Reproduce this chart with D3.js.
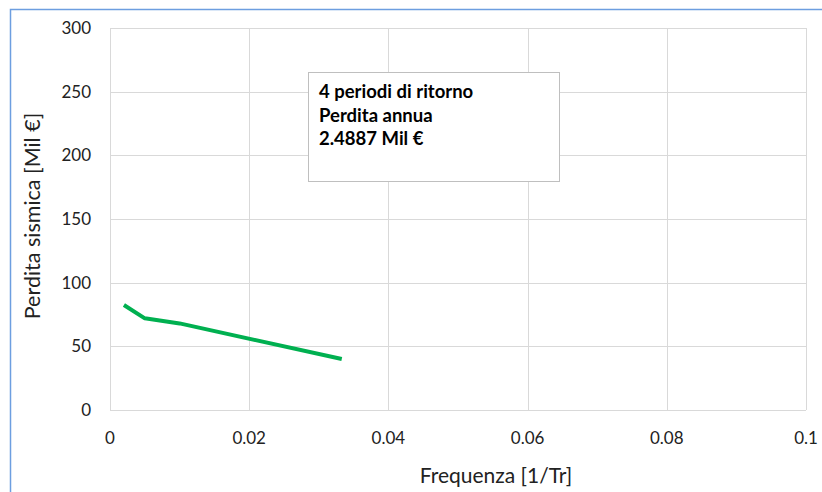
<!DOCTYPE html>
<html><head><meta charset="utf-8">
<script src="https://cdn.jsdelivr.net/npm/d3@7"></script>
<style>body{margin:0;background:#fff;} svg{display:block;font-family:Lato,"Open Sans",sans-serif;}</style>
</head><body>
<script>
const freq = [0.002, 0.005, 0.01, 0.0333];
const loss = [82.5, 72, 68, 40];
const xTicks = [0, 0.02, 0.04, 0.06, 0.08, 0.1];
const yTicks = [0, 50, 100, 150, 200, 250, 300];
const boxLines = ["4 periodi di ritorno", "Perdita annua", "2.4887 Mil €"];

const W = 822, H = 492;
const svg = d3.select("body").append("svg").attr("width", W).attr("height", H);
const m = {l:110, r:806, t:28, b:410};
const x = d3.scaleLinear().domain([0, 0.1]).range([m.l, m.r]);
const y = d3.scaleLinear().domain([0, 300]).range([m.b, m.t]);

// outer chart border (left & top visible)
svg.append("path").attr("d", `M10.5,${H} V9.5 H${W}`).attr("fill","none").attr("stroke","#6d9ee0").attr("stroke-width",1.5);

const g = svg.append("g");
g.selectAll(".vg").data(xTicks).enter().append("line")
  .attr("x1", d=>Math.round(x(d))+0.5).attr("x2", d=>Math.round(x(d))+0.5)
  .attr("y1", m.t).attr("y2", m.b).attr("stroke","#d9d9d9").attr("stroke-width",1);
g.selectAll(".hg").data(yTicks).enter().append("line")
  .attr("y1", d=>Math.round(y(d))+0.5).attr("y2", d=>Math.round(y(d))+0.5)
  .attr("x1", m.l).attr("x2", m.r).attr("stroke","#d9d9d9").attr("stroke-width",1);

g.selectAll(".yl").data(yTicks).enter().append("text")
  .attr("x", 91).attr("y", d=>y(d)).attr("dy","0.35em").attr("text-anchor","end")
  .attr("font-size",17).attr("fill","#222").text(d=>d);
g.selectAll(".xl").data(xTicks).enter().append("text")
  .attr("x", d=>x(d)).attr("y", 438).attr("dy","0.35em").attr("text-anchor","middle")
  .attr("font-size",17).attr("fill","#222").text(d=>d);

svg.append("text").attr("x", 496).attr("y", 483).attr("text-anchor","middle")
  .attr("font-size",21).attr("fill","#222").text("Frequenza [1/Tr]");
svg.append("text").attr("transform","translate(32,216) rotate(-90)").attr("dy","0.35em").attr("text-anchor","middle")
  .attr("font-size",21.5).attr("fill","#222").text("Perdita sismica [Mil €]");

const line = d3.line().x(d=>x(d[0])).y(d=>y(d[1]));
svg.append("path").datum(freq.map((f,i)=>[f, loss[i]])).attr("d", line)
  .attr("fill","none").attr("stroke","#00b050").attr("stroke-width",4).attr("stroke-linejoin","round");

// text box
svg.append("rect").attr("x",308.5).attr("y",72.5).attr("width",251).attr("height",109)
  .attr("fill","#fff").attr("stroke","#bfbfbf").attr("stroke-width",1);
svg.selectAll(".bt").data(boxLines).enter().append("text")
  .attr("x",319).attr("y",(d,i)=>98+i*23.5).attr("font-size",18.5).attr("font-weight","bold")
  .attr("fill","#000").text(d=>d);
</script>
</body></html>
